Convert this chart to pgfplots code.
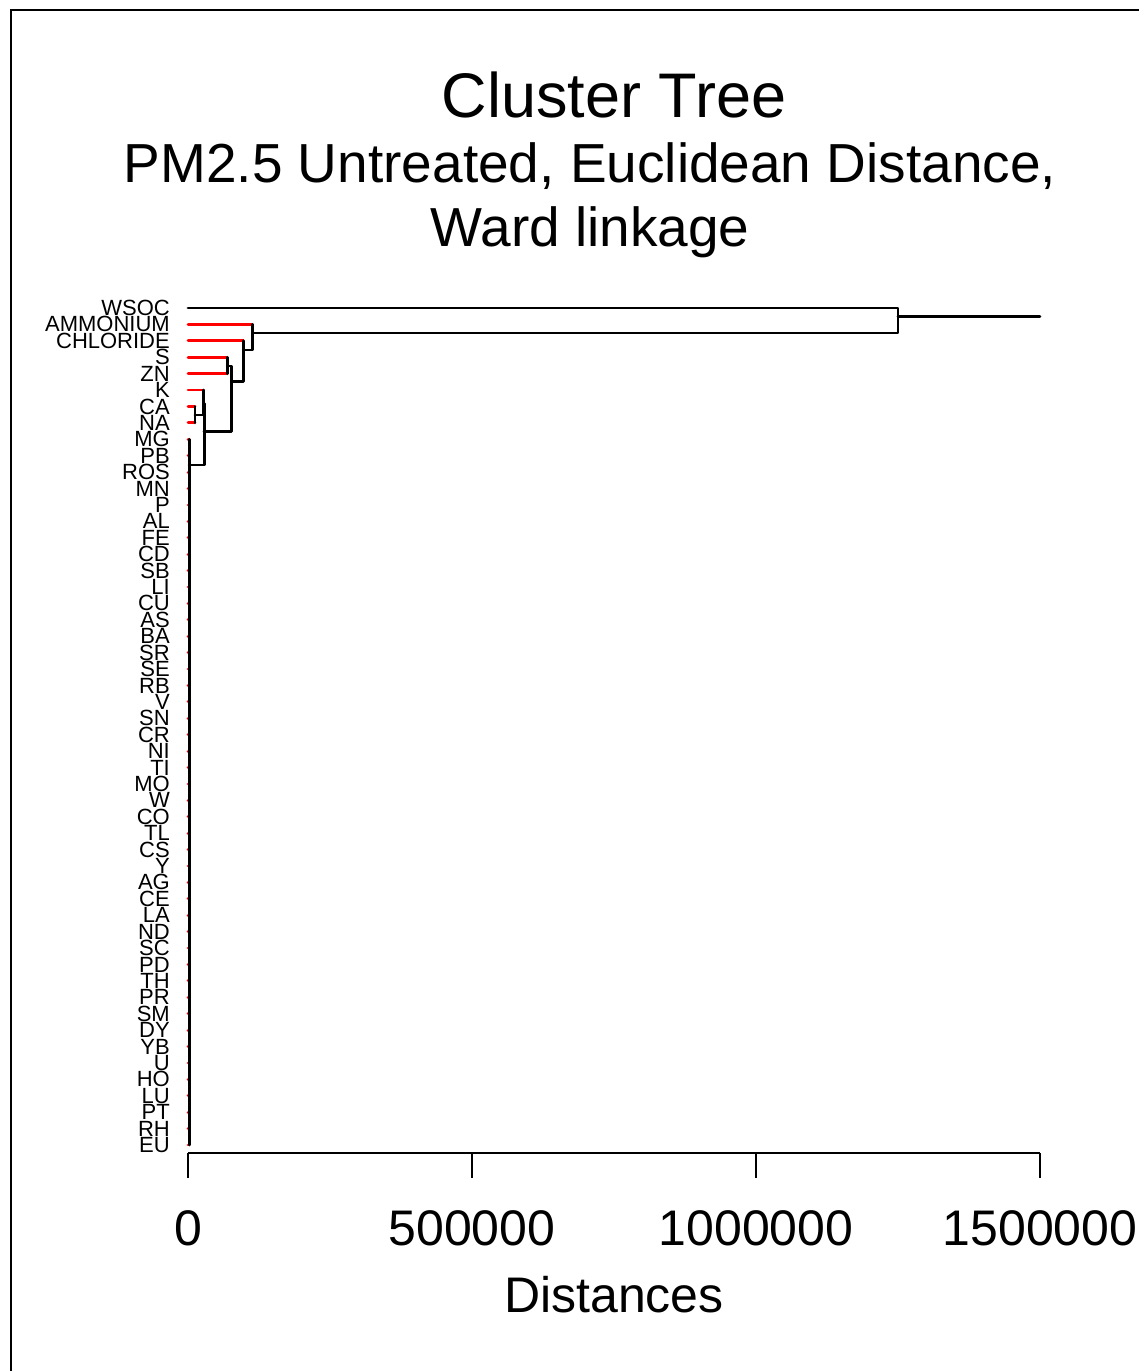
\documentclass[border=0pt]{standalone}
\usepackage{pgfplots}
\pgfplotsset{compat=1.18}
\usepackage{fontspec}
\setmainfont{Liberation Sans}
\tikzset{seg/.style={black, line width=2.8pt, line cap=round, line join=round}}
\begin{document}
\begin{tikzpicture}[x=1pt,y=1pt]
\useasboundingbox (0,0) rectangle (1139,1371);
% frame of the device region
\draw[line width=2pt] (10.5,-5) -- (10.5,1360.5) -- (1150,1360.5);
% titles
\node[anchor=base,font=\fontsize{63}{63}\selectfont] at (614,1253) {Cluster Tree};
\node[anchor=base,font=\fontsize{55}{55}\selectfont] at (590,1188) {PM2.5 Untreated, Euclidean Distance,};
\node[anchor=base,font=\fontsize{55}{55}\selectfont] at (590,1124) {Ward linkage};
\begin{axis}[
    at={(188pt,218pt)}, anchor=south west,
    scale only axis, width=852pt, height=861.4pt,
    xmin=0, xmax=1500000, ymin=-52.4875, ymax=0,
    clip=false,
    axis x line*=bottom, axis y line*=left,
    y axis line style={draw=none},
    x axis line style={line width=2.5pt},
    tick align=outside, major tick length=25pt,
    scaled x ticks=false,
    xtick={0,500000,1000000,1500000},
    xticklabels={0,500000,1000000,1500000},
    xtick style={line width=2.5pt,black},
    x tick label style={font=\fontsize{50}{50}\selectfont, inner sep=0pt, yshift=-32pt},
    xlabel={Distances},
    xlabel style={at={(axis description cs:0.5,0)}, anchor=base, yshift=-159pt, font=\fontsize{50}{50}\selectfont},
    ytick={-52,-51,...,-1},
    yticklabels={EU,RH,PT,LU,HO,U,YB,DY,SM,PR,TH,PD,SC,ND,LA,CE,AG,Y,CS,TL,CO,W,MO,TI,NI,CR,SN,V,RB,SE,SR,BA,AS,CU,LI,SB,CD,FE,AL,P,MN,ROS,PB,MG,NA,CA,K,ZN,S,CHLORIDE,AMMONIUM,WSOC},
    ytick style={draw=none},
    y tick label style={font=\fontsize{22}{22}\selectfont, anchor=east, inner sep=0pt, xshift=7pt},
  ]
% leaf edges
\addplot[xcomb, red, line width=2.8pt, line cap=round] coordinates {
  (113900,-2) (97400,-3) (69000,-4) (69000,-5) (27800,-6) (12300,-7) (12300,-8)
  (2000,-9) (2000,-10) (900,-11) (900,-12) (900,-13) (900,-14) (900,-15) (900,-16)
  (900,-17) (900,-18) (900,-19) (900,-20) (900,-21) (900,-22) (900,-23) (900,-24)
  (900,-25) (900,-26) (900,-27) (900,-28) (900,-29) (900,-30) (900,-31) (900,-32)
  (900,-33) (900,-34) (900,-35) (900,-36) (900,-37) (900,-38) (900,-39) (900,-40)
  (900,-41) (900,-42) (900,-43) (900,-44) (900,-45) (900,-46) (900,-47) (900,-48)
  (900,-49) (900,-50) (900,-51) (900,-52)};
% merges
\addplot[seg] coordinates {(0,-1) (1250000,-1) (1250000,-2.52) (113900,-2.52)};
\addplot[seg] coordinates {(1250000,-1.53) (1500000,-1.53)};
\addplot[seg] coordinates {(113900,-2) (113900,-3.56) (97400,-3.56)};
\addplot[seg] coordinates {(97400,-3) (97400,-5.49) (76200,-5.49)};
\addplot[seg] coordinates {(69000,-4.53) (76200,-4.53) (76200,-8.54) (28400,-8.54)};
\addplot[seg] coordinates {(69000,-4) (69000,-5)};
\addplot[seg] coordinates {(27800,-6.8) (28400,-6.8) (28400,-10.57) (2000,-10.57)};
\addplot[seg] coordinates {(27800,-6) (27800,-7.52) (12300,-7.52)};
\addplot[seg] coordinates {(12300,-7) (12300,-8)};
\addplot[seg] coordinates {(2000,-9) (2000,-52)};
\end{axis}
\end{tikzpicture}
\end{document}
